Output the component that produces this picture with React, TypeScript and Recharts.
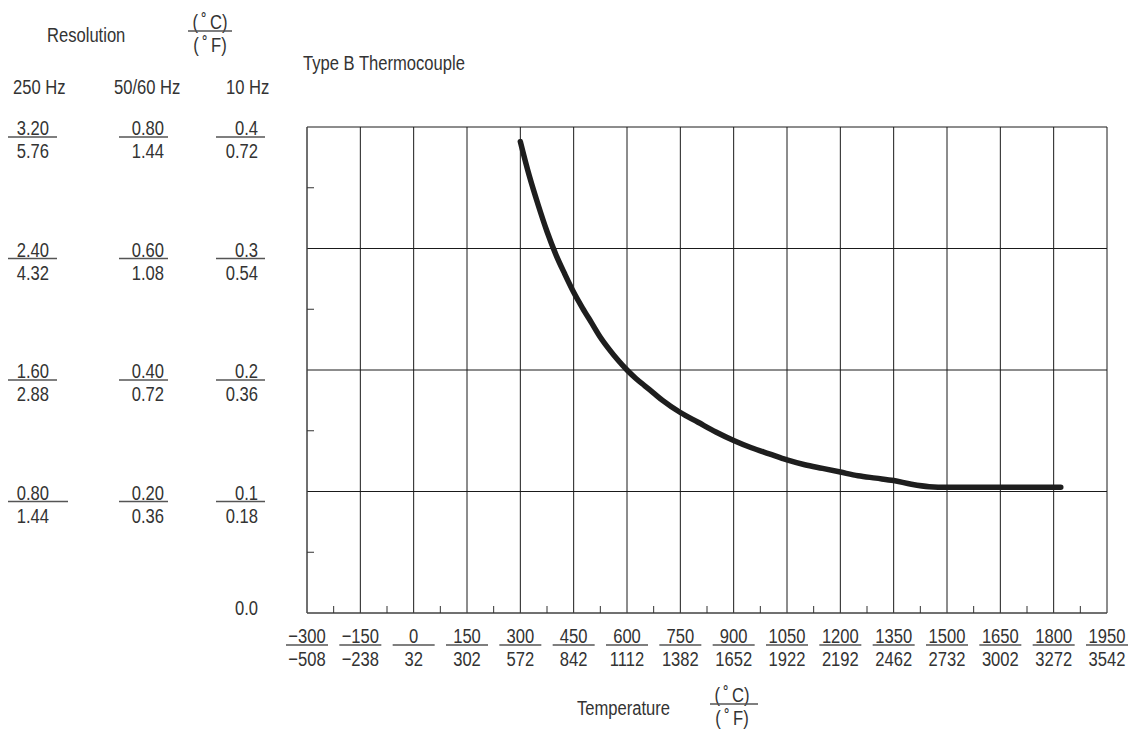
import React from "react"
import { LineChart, Line, XAxis, YAxis, CartesianGrid } from "recharts"

// temperature in °C and resolution of the 10 Hz filter (°C)
const temps = [300, 325, 350, 375, 400, 425, 450, 475, 500, 525, 550, 575, 600, 625, 650, 675, 700, 750, 800, 850, 900, 950, 1000, 1050, 1100, 1150, 1200, 1250, 1300, 1350, 1400, 1450, 1500, 1550, 1600, 1650, 1700, 1750, 1800, 1820]
const resolution = [0.388, 0.36, 0.336, 0.314, 0.295, 0.279, 0.264, 0.251, 0.239, 0.227, 0.217, 0.208, 0.2, 0.193, 0.187, 0.181, 0.175, 0.165, 0.157, 0.149, 0.142, 0.136, 0.131, 0.126, 0.122, 0.119, 0.116, 0.113, 0.111, 0.109, 0.106, 0.104, 0.1035, 0.1035, 0.1035, 0.1035, 0.1035, 0.1035, 0.1035, 0.1035]

// x axis labels (°C over °F)
const tempC = [-300, -150, 0, 150, 300, 450, 600, 750, 900, 1050, 1200, 1350, 1500, 1650, 1800, 1950]
const tempF = [-508, -238, 32, 302, 572, 842, 1112, 1382, 1652, 1922, 2192, 2462, 2732, 3002, 3272, 3542]
const xMinorTicks = [-225, -75, 75, 225, 375, 525, 675, 825, 975, 1125, 1275, 1425, 1575, 1725, 1875]

// y axis labels, top row first (0.4 → 0.1)
const yMajor = [0.4, 0.3, 0.2, 0.1]
const yMinor = [0.05, 0.15, 0.25, 0.35]
const res250C = ["3.20", "2.40", "1.60", "0.80"]
const res250F = ["5.76", "4.32", "2.88", "1.44"]
const res5060C = ["0.80", "0.60", "0.40", "0.20"]
const res5060F = ["1.44", "1.08", "0.72", "0.36"]
const res10C = ["0.4", "0.3", "0.2", "0.1"]
const res10F = ["0.72", "0.54", "0.36", "0.18"]

const data = temps.map((t, i) => ({ t, r: resolution[i] }))

const FONT = "'Liberation Sans', Arial, sans-serif"
const INK = "#333"
const RULE = "#555"
const DEG_C = "(\u2009\u02da\u2009C)"
const DEG_F = "(\u2009\u02da\u2009F)"

const fmt = (n: number) => (n < 0 ? "\u2212" + Math.abs(n) : String(n))

// narrow text: regular sans squeezed horizontally
function T({ x, y, anchor = "start", children }: any) {
  return (
    <text
      transform={`translate(${x},${y}) scale(0.79,1)`}
      textAnchor={anchor}
      fontSize={21}
      fontFamily={FONT}
      fill={INK}
    >
      {children}
    </text>
  )
}

function Frac({ x, y, top, bottom, anchor = "middle", lineFrom, lineTo }: any) {
  return (
    <g>
      <T x={x} y={y} anchor={anchor}>{top}</T>
      <line x1={lineFrom} x2={lineTo} y1={y + 2} y2={y + 2} stroke={RULE} strokeWidth={1.5} />
      <T x={x} y={y + 23} anchor={anchor}>{bottom}</T>
    </g>
  )
}

function XTick(props: any) {
  const { x, y, payload } = props
  const v = payload.value
  const i = tempC.indexOf(v)
  if (i < 0) {
    return <line x1={x} x2={x} y1={y} y2={y - 7} stroke="#333" />
  }
  return (
    <Frac x={x} y={y + 30} top={fmt(tempC[i])} bottom={fmt(tempF[i])} lineFrom={x - 21} lineTo={x + 21} />
  )
}

function YTick(props: any) {
  const { y, payload } = props
  const v = Math.round(payload.value * 100) / 100
  if (yMinor.includes(v)) {
    return <line x1={307} x2={314} y1={y} y2={y} stroke="#333" />
  }
  if (v === 0) {
    return <T x={258} y={y + 2} anchor="end">0.0</T>
  }
  const i = yMajor.indexOf(v)
  if (i < 0) return null
  const gy = y + 8
  return (
    <g>
      <Frac x={49} y={gy} top={res250C[i]} bottom={res250F[i]} anchor="end" lineFrom={8} lineTo={i === 3 ? 68 : 57} />
      <Frac x={164} y={gy} top={res5060C[i]} bottom={res5060F[i]} anchor="end" lineFrom={119} lineTo={168} />
      <Frac x={258} y={gy} top={res10C[i]} bottom={res10F[i]} anchor="end" lineFrom={216} lineTo={265} />
    </g>
  )
}

export default function App() {
  return (
    <div style={{ position: "absolute", left: 0, top: 0, width: 1136, height: 738, background: "#fff" }}>
      <LineChart width={1136} height={738} data={data} margin={{ top: 127, right: 29, bottom: 0, left: 0 }}>
        <CartesianGrid stroke="#1a1a1a" verticalValues={tempC} horizontalValues={[0, 0.1, 0.2, 0.3, 0.4]} />
        <XAxis
          dataKey="t"
          type="number"
          domain={[-300, 1950]}
          ticks={[...tempC, ...xMinorTicks].sort((a, b) => a - b)}
          interval={0}
          tick={<XTick />}
          tickLine={false}
          tickSize={0}
          tickMargin={0}
          axisLine={{ stroke: RULE }}
          height={125}
          allowDataOverflow
        />
        <YAxis
          type="number"
          domain={[0, 0.4]}
          ticks={[0, 0.05, 0.1, 0.15, 0.2, 0.25, 0.3, 0.35, 0.4]}
          interval={0}
          tick={<YTick />}
          tickLine={false}
          tickSize={0}
          tickMargin={0}
          axisLine={{ stroke: RULE }}
          width={307}
          allowDataOverflow
        />
        <Line dataKey="r" type="monotone" stroke="#1e1e1e" strokeWidth={5.5} strokeLinecap="round" dot={false} isAnimationActive={false} />
      </LineChart>
      <svg width={1136} height={738} style={{ position: "absolute", left: 0, top: 0, pointerEvents: "none" }}>
        <T x={47} y={42}>Resolution</T>
        <Frac x={210} y={29} top={DEG_C} bottom={DEG_F} lineFrom={188} lineTo={232} />
        <T x={13} y={94}>250 Hz</T>
        <T x={114} y={94}>50/60 Hz</T>
        <T x={226} y={94}>10 Hz</T>
        <T x={303} y={70}>Type B Thermocouple</T>
        <T x={577} y={715}>Temperature</T>
        <Frac x={732} y={702} top={DEG_C} bottom={DEG_F} lineFrom={710} lineTo={758} />
      </svg>
    </div>
  )
}
